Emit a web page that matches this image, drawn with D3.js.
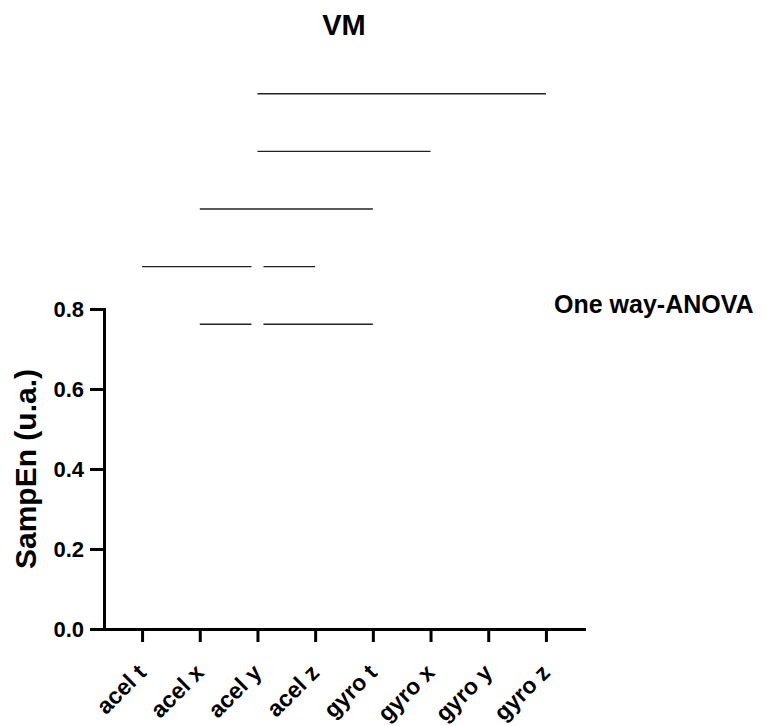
<!DOCTYPE html>
<html>
<head>
<meta charset="utf-8">
<script src="https://cdn.jsdelivr.net/npm/d3@7/dist/d3.min.js"></script>
<style>
  html, body { margin: 0; padding: 0; background: #fff; }
  text { font-family: "Liberation Sans", Arial, Helvetica, sans-serif; font-weight: bold; fill: #000; }
</style>
</head>
<body>
<svg id="chart" width="763" height="726"></svg>
<script>
// ---- data ----
const categories = ["acel t", "acel x", "acel y", "acel z", "gyro t", "gyro x", "gyro y", "gyro z"];
const yTicks = [0.0, 0.2, 0.4, 0.6, 0.8];
// significance comparison brackets (from category, to category, height in axis units)
const compFrom  = ["acel y", "acel y", "acel x", "acel t", "acel y", "acel x", "acel y"];
const compTo    = ["gyro z", "gyro x", "gyro t", "acel y", "acel z", "acel y", "gyro t"];
const compLevel = [1.338, 1.194, 1.050, 0.906, 0.906, 0.762, 0.762];
const title = "VM";
const yLabel = "SampEn (u.a.)";
const note = "One way-ANOVA";

// ---- layout ----
const svg = d3.select("#chart");
const mLeft = 104, mRight = 584, mTop = 309, mBottom = 629;

const x = d3.scalePoint().domain(categories).range([mLeft, mRight]).padding(0.66);
const y = d3.scaleLinear().domain([0, 0.8]).range([mBottom, mTop]);

// y axis
const yAxis = svg.append("g").attr("transform", `translate(${mLeft},0)`)
  .call(d3.axisLeft(y).tickValues(yTicks).tickFormat(d3.format(".1f")).tickSize(14).tickSizeOuter(0).tickPadding(6));
yAxis.select(".domain").attr("stroke", "#000").attr("stroke-width", 3).attr("stroke-linecap", "square");
yAxis.selectAll(".tick line").attr("stroke", "#000").attr("stroke-width", 3);
yAxis.selectAll(".tick text").attr("dy", "0.36em")
  .style("font-size", "22px").style("font-family", "Liberation Sans, Arial, sans-serif").style("font-weight", "bold").attr("fill", "#000");

// x axis
const xAxis = svg.append("g").attr("transform", `translate(0,${mBottom})`)
  .call(d3.axisBottom(x).tickSize(13).tickSizeOuter(0));
xAxis.select(".domain").attr("stroke", "#000").attr("stroke-width", 3).attr("stroke-linecap", "square");
xAxis.selectAll(".tick line").attr("stroke", "#000").attr("stroke-width", 3);
xAxis.selectAll(".tick text")
  .attr("x", 0).attr("y", 0).attr("dy", 0)
  .attr("text-anchor", "end")
  .attr("transform", "translate(5,45) rotate(-45)")
  .style("font-size", "23px").style("font-family", "Liberation Sans, Arial, sans-serif").style("font-weight", "bold").attr("fill", "#000");

// comparison lines
const gap = 6;
const comps = compFrom.map((f, i) => ({ from: f, to: compTo[i], level: compLevel[i] }));
comps.forEach(c => {
  let x1 = x(c.from), x2 = x(c.to);
  comps.forEach(o => {
    if (o === c || o.level !== c.level) return;
    if (o.from === c.to) x2 -= gap;
    if (o.to === c.from) x1 += gap;
  });
  c.x1 = x1; c.x2 = x2;
});
svg.append("g").selectAll("line").data(comps).join("line")
  .attr("x1", d => d.x1).attr("x2", d => d.x2)
  .attr("y1", d => y(d.level)).attr("y2", d => y(d.level))
  .attr("stroke", "#222").attr("stroke-width", 1.4);

// title
svg.append("text").attr("x", 344).attr("y", 35).attr("text-anchor", "middle")
  .style("font-size", "29px").text(title);

// y label
svg.append("text").attr("transform", `translate(36,${(mTop + mBottom) / 2}) rotate(-90)`)
  .attr("text-anchor", "middle").style("font-size", "30px").text(yLabel);

// note
svg.append("text").attr("x", 554).attr("y", 313).style("font-size", "25px").text(note);
</script>
</body>
</html>
